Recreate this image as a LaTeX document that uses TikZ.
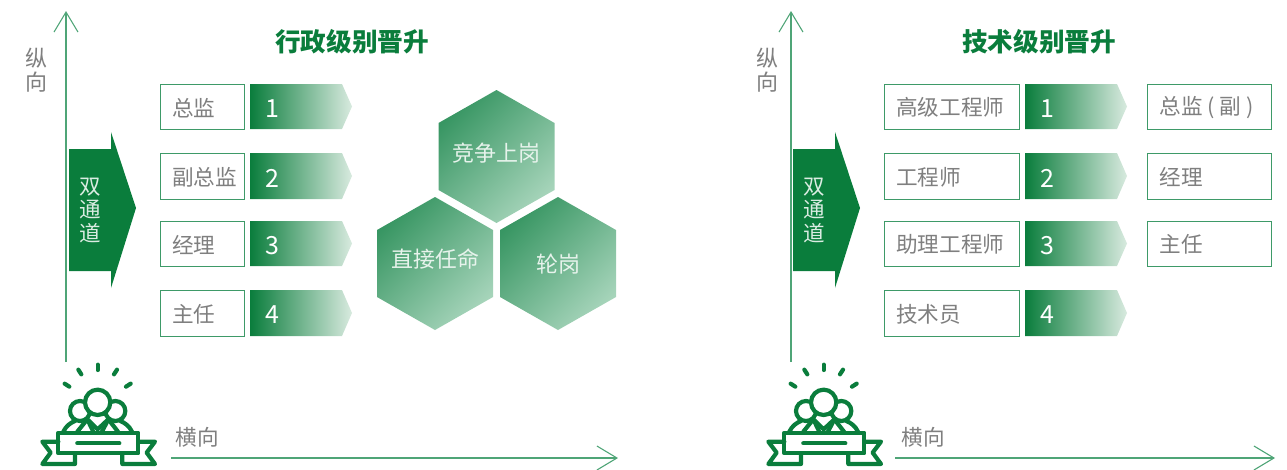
\documentclass[tikz,border=0pt]{standalone}
\usepackage{fontspec}
\setmainfont{Noto Sans CJK SC}
\usetikzlibrary{arrows.meta}
\definecolor{gdark}{HTML}{0A7D3C}
\definecolor{gline}{HTML}{4FA577}
\definecolor{gbox}{HTML}{3E9A68}
\definecolor{gfade}{HTML}{D8EADF}
\definecolor{hexa}{HTML}{389663}
\definecolor{hexb}{HTML}{A6D4BA}
\definecolor{gtxt}{HTML}{7F7F7F}
\tikzset{
  x=1pt,y=-1pt,
  axisline/.style={draw=gline,line width=1.1pt,-{Straight Barb[length=20pt,width=24pt,line width=1.1pt]}},
  lbl/.style={text=gtxt,font=\fontsize{21.6}{24}\selectfont,inner sep=0pt},
  vlbl/.style={lbl,align=center,font=\fontsize{22}{24}\selectfont},
  title/.style={text=gdark,font=\fontsize{25.6}{28}\selectfont\bfseries,inner sep=0pt},
  boxn/.style={draw=gbox,line width=1pt,fill=white,inner sep=0pt,anchor=north west},
  num/.style={text=white,font=\fontsize{25}{28}\selectfont,inner sep=0pt,anchor=west},
  hexlbl/.style={text=white!88!hexa,font=\fontsize{22}{24}\selectfont,inner sep=0pt},
  chan/.style={text=white!85!gdark,font=\fontsize{21.5}{23.5}\selectfont,inner sep=0pt,align=center},
  barfill/.style={left color=gdark,right color=gfade},
  hexfill/.style={left color=hexa,right color=hexb,shading angle=45},
  icon/.style={draw=gdark,line width=4.2pt,line cap=round,line join=round},
}
\newcommand{\stepbar}[6]{% name, x of box, width, top, bottom, label
  \node[boxn,minimum width=#3pt,minimum height=\dimexpr#5pt-#4pt\relax] (b#1) at (#2,#4) {};
  \node[lbl,anchor=west] (t#1) at ([xshift=12.5pt,yshift=-0.7pt]b#1.west) {#6};
}
\newcommand{\arrowbar}[5]{% name, x, top, bottom, digit
  \shade[barfill] (#2,#3) -- (#2+92,#3) -- (#2+102,{(#3+#4)/2}) -- (#2+92,#4) -- (#2,#4) -- cycle;
  \node[num] (n#1) at (#2+15,{(#3+#4)/2+2}) {#5};
}
\newcommand{\hexagon}[5]{% name, cx, cy(top), left half width, label
  \shade[hexfill] (#2,#3) -- (#2+58,#3+33) -- (#2+58,#3+100) -- (#2,#3+133) -- (#2-58,#3+100) -- (#2-58,#3+33) -- cycle;
  \node[hexlbl] (#1) at (#2,#4) {#5};
}
\newcommand{\channel}[2]{% name, x offset
  \fill[gdark] (#2+69,149) -- (#2+111,149) -- (#2+111,132) -- (#2+136,208) -- (#2+111,288) -- (#2+111,271) -- (#2+69,271) -- cycle;
  \node[chan] (#1) at (#2+90.5,210) {双\\通\\道};
}
\newcommand{\medal}[1]{%
\begin{scope}[shift={(#1,340)},x=0.3333pt,y=-0.3333pt]
  \foreach \a/\b/\c/\d in {293/74/293/90,235/89/244/103,351/89/342/103,194/131/208/140,392/131/378/140}
    \draw[icon] (\a,\b) -- (\c,\d);
  \draw[icon] (240,213) circle (30);
  \draw[icon] (346,213) circle (30);
  \draw[icon,fill=white] (293,187) circle (38);
  \draw[icon] (190,275) .. controls (198,258) and (212,248) .. (225,243);
  \draw[icon] (396,275) .. controls (388,258) and (374,248) .. (361,243);
  \draw[icon] (232,275) -- (262,238) -- (293,268) -- (325,238) -- (354,275);
  \draw[icon] (262,238) -- (280,275);
  \draw[icon] (325,238) -- (306,275);
  \draw[icon,fill=white] (175,278) rectangle (415,340);
  \draw[icon] (232,310) -- (358,310);
  \draw[icon] (175,305) -- (127,305) -- (152,338) -- (127,372) -- (225,372) -- (225,340);
  \draw[icon] (415,305) -- (465,305) -- (440,338) -- (465,372) -- (367,372) -- (367,340);
\end{scope}}
\begin{document}
\begin{tikzpicture}
\useasboundingbox (0,0) rectangle (1287,469);
% left panel
\coordinate (lvs) at (66,362); \coordinate (lve) at (66,11);
\coordinate (lhs) at (171,458); \coordinate (lhe) at (618,458);
\draw[axisline] (lvs) -- (lve);
\draw[axisline] (lhs) -- (lhe);
\node[vlbl] (lz) at (36,70) {纵\\向};
\node[lbl] (lh) at (197,437) {横向};
\medal{0}
\channel{lc}{0}
\node[title] (lt) at (352,42) {行政级别晋升};
\stepbar{a}{159.5}{84}{84}{129}{总监}
\stepbar{b}{159.5}{84}{153}{199}{副总监}
\stepbar{c}{159.5}{84}{221}{266}{经理}
\stepbar{d}{159.5}{84}{290}{336}{主任}
\arrowbar{a}{250}{84}{129}{1}
\arrowbar{b}{250}{153}{199}{2}
\arrowbar{c}{250}{221}{266}{3}
\arrowbar{d}{250}{290}{336}{4}
\hexagon{h1}{496.5}{90}{153}{竞争上岗}
\hexagon{h2}{435}{197}{259}{直接任命}
\hexagon{h3}{558}{197}{264}{轮岗}
% right panel
\coordinate (rvs) at (791,362); \coordinate (rve) at (791,11);
\coordinate (rhs) at (895,458); \coordinate (rhe) at (1275,458);
\draw[axisline] (rvs) -- (rve);
\draw[axisline] (rhs) -- (rhe);
\node[vlbl] (rz) at (767,70) {纵\\向};
\node[lbl] (rh) at (923,437) {横向};
\medal{726}
\channel{rc}{724}
\node[title] (rt) at (1039,42) {技术级别晋升};
\stepbar{e}{883.5}{135}{84}{129}{高级工程师}
\stepbar{f}{883.5}{135}{153}{199}{工程师}
\stepbar{g}{883.5}{135}{221}{266}{助理工程师}
\stepbar{h}{883.5}{135}{290}{336}{技术员}
\arrowbar{e}{1025}{84}{129}{1}
\arrowbar{f}{1025}{153}{199}{2}
\arrowbar{g}{1025}{221}{266}{3}
\arrowbar{h}{1025}{290}{336}{4}
\stepbar{i}{1147}{124}{84}{129}{总监 ( 副 )}
\stepbar{j}{1147}{124}{153}{199}{经理}
\stepbar{k}{1147}{124}{221}{266}{主任}
\end{tikzpicture}
\end{document}
